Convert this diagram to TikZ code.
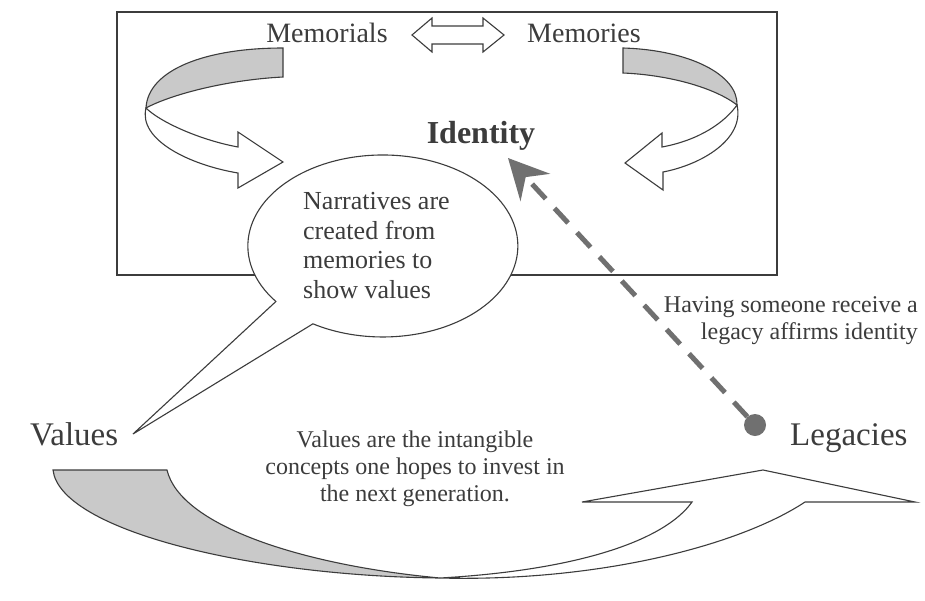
\documentclass[tikz,border=0pt]{standalone}
\usepackage{fontspec}
\setmainfont{Liberation Serif}
\usetikzlibrary{arrows.meta}
\definecolor{ink}{HTML}{3C3C3C}
\definecolor{band}{HTML}{C9C9C9}
\definecolor{dashc}{HTML}{707070}
\begin{document}
\begin{tikzpicture}[x=1pt,y=-1pt,
  outl/.style={draw=ink, line width=1.1pt, line join=miter},
  lab/.style={text=ink, inner sep=0pt},
  big/.style={font=\fontsize{28}{30}\selectfont},
  mid/.style={font=\fontsize{26}{29.5}\selectfont},
  small/.style={font=\fontsize{24}{27}\selectfont},
  huge/.style={font=\fontsize{33}{36}\selectfont},
]
\useasboundingbox[fill=white] (0,0) rectangle (925,600);
% frame
\draw[outl, line width=1.3pt] (117,12) rectangle (777,275);
% top labels
\node[lab, big, anchor=base] (memorials) at (327,42) {Memorials};
\node[lab, big, anchor=base] (memories) at (584,42) {Memories};
\node[lab, anchor=base, font=\fontsize{32}{34}\selectfont\bfseries] (identity) at (481,143) {Identity};
% double arrow
\draw[outl, fill=white] (412,35) -- (432,18) -- (432,26) -- (483,26) -- (483,18) -- (504,35)
  -- (483,52) -- (483,44) -- (432,44) -- (432,52) -- cycle;
% left curved arrow
\draw[outl, fill=band] (283,48) -- (283,77) .. controls (225,80) and (170,95) .. (146,108)
  .. controls (148,70) and (205,48) .. (283,48) -- cycle;
\draw[outl, fill=white] (146,108) .. controls (138,140) and (190,165) .. (238,173)
  -- (238,188) -- (283,162) -- (238,132) -- (238,147)
  .. controls (200,140) and (160,122) .. (146,108) -- cycle;
% right curved arrow
\draw[outl, fill=band] (623,48) .. controls (690,50) and (738,75) .. (737,105)
  .. controls (715,88) and (670,75) .. (623,73) -- cycle;
\draw[outl, fill=white] (737,105) .. controls (745,140) and (700,165) .. (663,172)
  -- (663,190) -- (625,163) -- (662,133) -- (662,147)
  .. controls (700,140) and (725,122) .. (737,105) -- cycle;
% speech bubble
\draw[outl, fill=white] (275.9,301.5) arc[start angle=142.4, end angle=481.2, x radius=135, y radius=91]
  -- (133,434) -- cycle;
\node[lab, mid, anchor=base west, align=left] (narr) at (303,298)
  {Narratives are\\created from\\memories to\\show values};
% Values / Legacies
\node[lab, huge, anchor=base west] (values) at (30,445) {Values};
\node[lab, huge, anchor=base west] (legacies) at (790,445) {Legacies};
% bottom text
\node[lab, small, align=center] (valtext) at (415,469)
  {Values are the intangible\\concepts one hopes to invest in\\the next generation.};
% bottom arrow
\draw[outl, fill=band] (53,470) -- (167,470) .. controls (180,525) and (300,565) .. (440,578)
  .. controls (250,576) and (60,530) .. (53,470) -- cycle;
\draw[outl, fill=white] (440,578) .. controls (600,582) and (740,545) .. (805,502)
  -- (915,502) -- (763,470) -- (582,502) -- (692,502)
  .. controls (665,540) and (580,570) .. (440,578) -- cycle;
% dashed arrow
\node[circle, fill=dashc, inner sep=0pt, minimum size=22pt] (legdot) at (755,425) {};
\coordinate (idtip) at (508,158);
\draw[dashc, line width=5pt, dash pattern=on 20pt off 13pt,
  -{Stealth[length=40pt, width=40pt, inset=14pt]}] (legdot) -- (idtip);
\node[lab, small, anchor=base east, align=right] (having) at (918,339)
  {Having someone receive a\\legacy affirms identity};
\end{tikzpicture}
\end{document}
